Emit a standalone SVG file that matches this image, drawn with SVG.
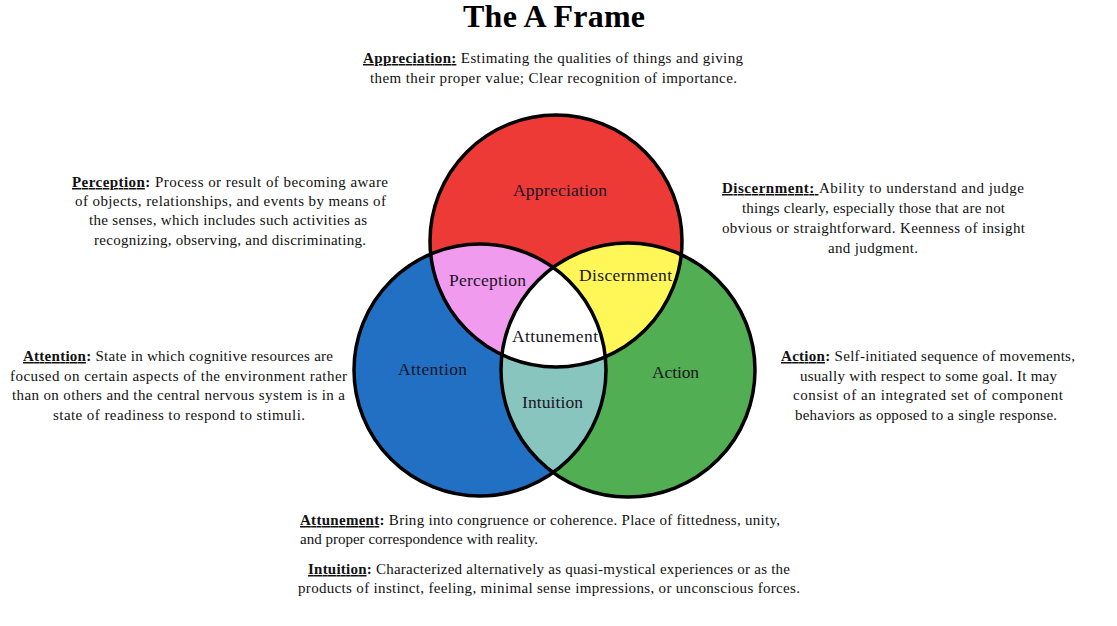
<svg xmlns="http://www.w3.org/2000/svg" width="1117" height="626" viewBox="0 0 1117 626">
<style>
.t{font-family:"Liberation Serif","Times New Roman",serif;font-size:15px;fill:#111;}
.b{font-weight:bold;}
.u{text-decoration:underline;}
.lbl{font-family:"Liberation Serif","Times New Roman",serif;font-size:17.5px;fill:#1a1424;}
.ttl{font-family:"Liberation Serif","Times New Roman",serif;font-size:32px;font-weight:bold;fill:#000;}
.ring{fill:none;stroke:#000;stroke-width:3.5;}
</style>
<defs>
<clipPath id="cR"><circle cx="556" cy="241" r="126"/></clipPath>
<clipPath id="cB"><circle cx="480" cy="370" r="126"/></clipPath>
<clipPath id="cG"><circle cx="628" cy="370" r="127"/></clipPath>
</defs>
<rect width="1117" height="626" fill="#fff"/>
<text class="ttl" x="554" y="27" text-anchor="middle" textLength="182">The A Frame</text>

<g id="appreciation">
<circle cx="556" cy="241" r="126" fill="#EE3A36"/>
</g>
<g id="attention">
<circle cx="480" cy="370" r="126" fill="#2270C4"/>
</g>
<g id="action">
<circle cx="628" cy="370" r="127" fill="#52AE52"/>
</g>
<g id="perception">
<circle cx="480" cy="370" r="126" fill="#F19BEF" clip-path="url(#cR)"/>
</g>
<g id="discernment">
<circle cx="628" cy="370" r="127" fill="#FFF757" clip-path="url(#cR)"/>
</g>
<g id="intuition">
<circle cx="628" cy="370" r="127" fill="#89C5BF" clip-path="url(#cB)"/>
</g>
<g id="attunement">
<g clip-path="url(#cR)"><circle cx="628" cy="370" r="127" fill="#fff" clip-path="url(#cB)"/></g>
</g>
<g id="outlines">
<circle class="ring" cx="556" cy="241" r="126"/>
<circle class="ring" cx="480" cy="370" r="126"/>
<circle class="ring" cx="628" cy="370" r="127"/>
</g>
<g id="connectors"></g>

<g id="circle-labels">
<text class="lbl" x="513" y="196" textLength="94">Appreciation</text>
<text class="lbl" x="449" y="286" textLength="77">Perception</text>
<text class="lbl" x="579" y="281" textLength="93">Discernment</text>
<text class="lbl" x="512" y="342" textLength="86">Attunement</text>
<text class="lbl" x="398" y="375" textLength="69">Attention</text>
<text class="lbl" x="652" y="378" textLength="47">Action</text>
<text class="lbl" x="522" y="408" textLength="61">Intuition</text>
</g>

<g id="desc-appreciation">
<text class="t" x="363" y="63" textLength="380"><tspan class="b u">Appreciation:</tspan> Estimating the qualities of things and giving</text>
<text class="t" x="370" y="83" textLength="367">them their proper value; Clear recognition of importance.</text>
</g>
<g id="desc-perception">
<text class="t" x="72" y="187" textLength="316"><tspan class="b u">Perception</tspan><tspan class="b">:</tspan> Process or result of becoming aware</text>
<text class="t" x="75" y="206" textLength="311">of objects, relationships, and events by means of</text>
<text class="t" x="89" y="225" textLength="278">the senses, which includes such activities as</text>
<text class="t" x="94" y="245" textLength="272">recognizing, observing, and discriminating.</text>
</g>
<g id="desc-discernment">
<text class="t" x="722" y="193" textLength="302"><tspan class="b u">Discernment: </tspan> Ability to understand and judge</text>
<text class="t" x="742" y="213" textLength="263">things clearly, especially those that are not</text>
<text class="t" x="722" y="233" textLength="303">obvious or straightforward. Keenness of insight</text>
<text class="t" x="828" y="253" textLength="90">and judgment.</text>
</g>
<g id="desc-attention">
<text class="t" x="23" y="361" textLength="310"><tspan class="b u">Attention</tspan><tspan class="b">:</tspan> State in which cognitive resources are</text>
<text class="t" x="10" y="381" textLength="337">focused on certain aspects of the environment rather</text>
<text class="t" x="12" y="400" textLength="333">than on others and the central nervous system is in a</text>
<text class="t" x="53" y="420" textLength="252">state of readiness to respond to stimuli.</text>
</g>
<g id="desc-action">
<text class="t" x="781" y="361" textLength="294"><tspan class="b u">Action</tspan><tspan class="b">:</tspan> Self-initiated sequence of movements,</text>
<text class="t" x="800" y="381" textLength="257">usually with respect to some goal. It may</text>
<text class="t" x="793" y="400" textLength="270">consist of an integrated set of component</text>
<text class="t" x="795" y="420" textLength="262">behaviors as opposed to a single response.</text>
</g>
<g id="desc-attunement">
<text class="t" x="300" y="525" textLength="480"><tspan class="b u">Attunement</tspan><tspan class="b">:</tspan> Bring into congruence or coherence. Place of fittedness, unity,</text>
<text class="t" x="300" y="544" textLength="238">and proper correspondence with reality.</text>
</g>
<g id="desc-intuition">
<text class="t" x="308" y="574" textLength="482"><tspan class="b u">Intuition</tspan><tspan class="b">:</tspan> Characterized alternatively as quasi-mystical experiences or as the</text>
<text class="t" x="298" y="593" textLength="502">products of instinct, feeling, minimal sense impressions, or unconscious forces.</text>
</g>
</svg>
